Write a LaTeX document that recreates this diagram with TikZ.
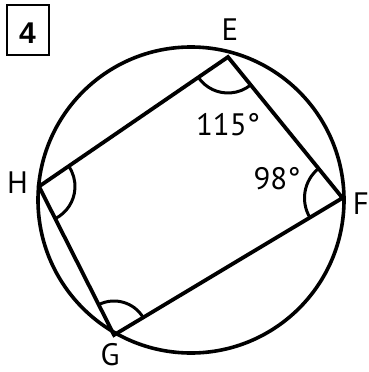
\documentclass[tikz,border=0pt]{standalone}
\usepackage{fontspec}
\setmainfont{PT Sans}
\newfontfamily\numfont{Liberation Sans}
\usetikzlibrary{angles,positioning}

\tikzset{
  side/.style={line width=3.8pt,line join=miter},
  mark angle/.style={draw,line width=3pt,angle radius=36pt},
  vlabel/.style={inner sep=0pt,anchor=base,font=\fontsize{31}{31}\selectfont}
}

\begin{document}
\begin{tikzpicture}[x=1pt,y=-1pt]
  \useasboundingbox (0,0) rectangle (369,372);
  % circle and the four vertices
  \coordinate (O) at (191,200);
  \coordinate (E) at (228,57);
  \coordinate (F) at (342.5,198);
  \coordinate (G) at (114,335);
  \coordinate (H) at (39,186.5);
  \draw[line width=3.6pt] (O) circle (153);
  \draw[side] (E) -- (F) -- (G) -- (H) -- cycle;
  % angle marks
  \pic[mark angle] {angle=H--E--F};
  \pic[mark angle,angle radius=38pt] {angle=E--F--G};
  \pic[mark angle] {angle=G--H--E};
  \pic[mark angle,angle radius=34pt] {angle=F--G--H};
  % labels
  \node[vlabel] (lE) at (230,40) {E};
  \node[vlabel] (lF) at (361,214) {F};
  \node[vlabel] (lG) at (110,365) {G};
  \node[vlabel] (lH) at (17.5,193.3) {H};
  \node[vlabel] (aE) at (228,135) {115°};
  \node[vlabel] (aF) at (277,189.5) {98°};
  % problem number
  \draw[line width=2pt] (7,5) rectangle (49,55);
  \node[inner sep=0pt,anchor=base,font=\numfont\bfseries\fontsize{30}{30}\selectfont] (num) at (27.5,43.3) {4};
\end{tikzpicture}
\end{document}
